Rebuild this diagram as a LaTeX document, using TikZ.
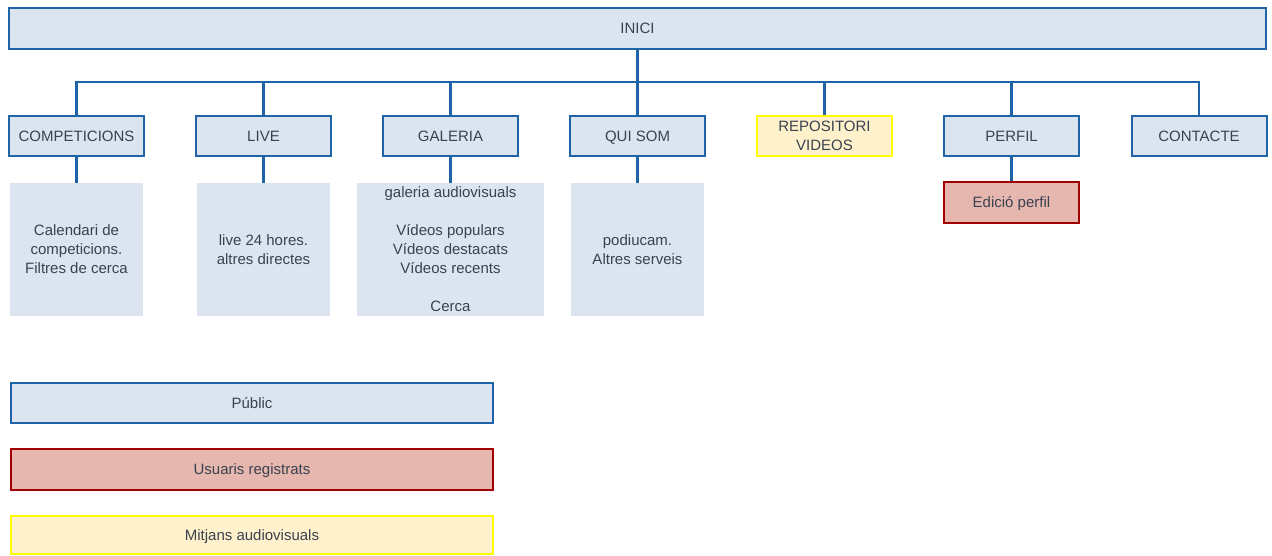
\documentclass[tikz,border=0pt]{standalone}
\usepackage{fontspec}
\setmainfont{Liberation Sans}
\definecolor{boxblue}{HTML}{1F63A8}
\definecolor{fillblue}{HTML}{DCE4EF}
\definecolor{boxred}{HTML}{A00000}
\definecolor{fillred}{HTML}{E6B7AE}
\definecolor{boxyellow}{HTML}{FFFF00}
\definecolor{fillyellow}{HTML}{FFF1CC}
\definecolor{txt}{HTML}{3A4250}
\tikzset{
  x=1pt, y=-1pt,
  base/.style={inner sep=0pt, align=center, text=txt,
    font=\fontsize{15}{19}\selectfont},
  oneline/.style={text height=10.8pt, text depth=0pt},
  menubox/.style={base, draw=boxblue, fill=fillblue, line width=2pt,
    minimum width=135pt, minimum height=40pt},
  mediabox/.style={menubox, draw=boxyellow, fill=fillyellow},
  userbox/.style={menubox, draw=boxred, fill=fillred},
  infobox/.style={base, fill=fillblue, minimum width=133pt, minimum height=133pt},
  link/.style={draw=boxblue, line width=2.5pt},
  trunk/.style={draw=boxblue, line width=3.5pt},
}
\begin{document}
\begin{tikzpicture}
\useasboundingbox (0,0) rectangle (1272,555);

% root
\node[menubox, oneline, minimum width=1257pt, minimum height=41pt] (inici) at (637.5,28.5) {INICI};
\coordinate (bus) at (637.5,82);

% first level
\node[menubox, oneline] (comp) at (76.5,136) {COMPETICIONS};
\node[menubox, oneline] (live) at (263.5,136) {LIVE};
\node[menubox, oneline] (gal)  at (450.5,136) {GALERIA};
\node[menubox, oneline] (qui)  at (637.5,136) {QUI SOM};
\node[mediabox] (repo) at (824.5,136) {REPOSITORI\\VIDEOS};
\node[menubox, oneline] (perf) at (1011.5,136) {PERFIL};
\node[menubox, oneline] (cont) at (1199,136) {CONTACTE};

% second level
\node[infobox] (compinfo) at (76.5,249.5) {Calendari de\\competicions.\\Filtres de cerca};
\node[infobox] (liveinfo) at (263.5,249.5) {live 24 hores.\\altres directes};
\node[infobox, minimum width=187pt] (galinfo) at (450.5,249.5)
  {galeria audiovisuals\\[19pt]Vídeos populars\\Vídeos destacats\\Vídeos recents\\[19pt]Cerca};
\node[infobox] (quiinfo) at (637.5,249.5) {podiucam.\\Altres serveis};
\node[userbox, oneline, minimum height=41pt] (edit) at (1011.5,202.5) {Edició perfil};

% connectors
\foreach \n in {comp,live,gal,qui,repo,perf,cont}
  \draw[link] (\n.north) -- (\n.north |- bus) -- (bus);
\draw[trunk] (inici.south) -- (bus);
\draw[link] (comp.south) -- (compinfo.north);
\draw[link] (live.south) -- (liveinfo.north);
\draw[link] (gal.south) -- (galinfo.north);
\draw[link] (qui.south) -- (quiinfo.north);
\draw[link] (perf.south) -- (edit.north);

% legend
\node[menubox, oneline, minimum width=482pt] (lpub) at (252,403) {Públic};
\node[userbox, oneline, minimum width=482pt, minimum height=41pt] (lreg) at (252,469.5) {Usuaris registrats};
\node[mediabox, oneline, minimum width=482pt, minimum height=38pt] (lmed) at (252,535) {Mitjans audiovisuals};
\end{tikzpicture}
\end{document}
